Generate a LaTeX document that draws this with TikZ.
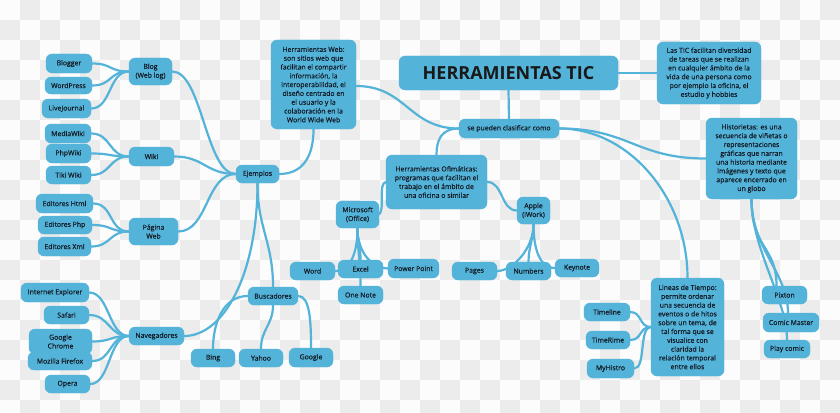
\documentclass[tikz,border=0pt]{standalone}
\usepackage{fontspec}
\setmainfont{Open Sans}
\newfontfamily\tfont[FakeBold=0.35]{Open Sans}
\definecolor{tblue}{RGB}{84,179,217}
\definecolor{tdark}{RGB}{18,26,36}
\definecolor{chk}{RGB}{236,236,236}
\definecolor{chw}{RGB}{252,252,252}
\pgfdeclarelayer{back}
\pgfdeclarelayer{edges}
\pgfsetlayers{back,edges,main}
\tikzset{
  tbox/.style={fill=tblue, draw=tblue, rounded corners=6pt, inner sep=0pt, align=center,
    text=tdark, font=\tfont\fontsize{6.9}{8.8}\selectfont},
  edge/.style={draw=tblue, line width=2.2pt, line cap=round},
}
\begin{document}
\begin{tikzpicture}[x=1pt,y=-1pt]
\useasboundingbox (0,0) rectangle (840,412);
\begin{pgfonlayer}{back}
\begin{scope}
\clip (0,0) rectangle (840,412);
\fill[chw] (0,0) rectangle (840,412);
\foreach \i in {0,...,41}{\foreach \j in {0,...,20}{%
  \pgfmathtruncatemacro\s{mod(\i+\j,2)}%
  \ifnum\s=1 \fill[chk] (\i*20,\j*20) rectangle ++(20,20);\fi}}
\end{scope}
\end{pgfonlayer}

% main nodes
\node[tbox, minimum width=219, minimum height=34, font=\fontsize{18}{20}\selectfont\bfseries, text=black!90] (tic) at (508.5,73) {HERRAMIENTAS TIC};
\node[tbox, minimum width=100, minimum height=19] (clas) at (509,128.5) {se pueden clasificar como};
\node[tbox, minimum width=104, minimum height=62] (lastic) at (709,73) {Las TIC facilitan diversidad\\de tareas que se realizan\\en cualquier ámbito de la\\vida de una persona como\\por ejemplo la oficina, el\\estudio y hobbies};
\node[tbox, minimum width=85, minimum height=89] (hweb) at (313.5,84.5) {Herramientas Web:\\son sitios web que\\facilitan el compartir\\información, la\\interoperabilidad, el\\diseño centrado en\\el usuario y la\\colaboración en la\\World Wide Web};
\node[tbox, minimum width=91, minimum height=81] (hist) at (751.5,158.5) {Historietas: es una\\secuencia de viñetas o\\representaciones\\gráficas que narran\\una historia mediante\\imágenes y texto que\\aparece encerrado en\\un globo};
\node[tbox, minimum width=101, minimum height=54] (ofi) at (436.5,182) {Herramientas Ofimáticas:\\programas que facilitan el\\trabajo en el ámbito de\\una oficina o similar};
\node[tbox, minimum width=43, minimum height=27] (ms) at (357.5,214.5) {Microsoft\\(Office)};
\node[tbox, minimum width=33, minimum height=27] (apple) at (533.5,210.5) {Apple\\(iWork)};
\node[tbox, minimum width=45, minimum height=18] (word) at (312.5,271) {Word};
\node[tbox, minimum width=45, minimum height=18] (excel) at (360.5,269) {Excel};
\node[tbox, minimum width=51, minimum height=19] (pp) at (413.5,268.5) {Power Point};
\node[tbox, minimum width=45, minimum height=18] (onote) at (360.5,295) {One Note};
\node[tbox, minimum width=45, minimum height=18] (pages) at (474.5,271) {Pages};
\node[tbox, minimum width=45, minimum height=18] (numbers) at (528.5,271) {Numbers};
\node[tbox, minimum width=44, minimum height=18] (keynote) at (577,268) {Keynote};
\node[tbox, minimum width=43, minimum height=18] (ejem) at (257.5,174) {Ejemplos};
\node[tbox, minimum width=43, minimum height=27] (blog) at (150.5,71.5) {Blog\\(Web log)};
\node[tbox, minimum width=45, minimum height=19] (wiki) at (151.5,156.5) {Wiki};
\node[tbox, minimum width=49, minimum height=27] (pweb) at (153.5,231.5) {Página\\Web};
\node[tbox, minimum width=46, minimum height=19] (blogger) at (69,63.5) {Blogger};
\node[tbox, minimum width=47, minimum height=17] (wordpress) at (68.5,85.5) {WordPress};
\node[tbox, minimum width=49, minimum height=19] (livej) at (66.5,108.5) {LiveJournal};
\node[tbox, minimum width=46, minimum height=19] (mediawiki) at (68,133.5) {MediaWiki};
\node[tbox, minimum width=45, minimum height=19] (phpwiki) at (68.5,153.5) {PhpWiki};
\node[tbox, minimum width=45, minimum height=18] (tiki) at (68.5,175) {Tiki Wiki};
\node[tbox, minimum width=57, minimum height=19] (ehtml) at (64.5,203.5) {Editores Html};
\node[tbox, minimum width=54, minimum height=18] (ephp) at (65,225) {Editores Php};
\node[tbox, minimum width=53, minimum height=19] (exml) at (64.5,246.5) {Editores Xml};
\node[tbox, minimum width=55, minimum height=18] (nav) at (156.5,336) {Navegadores};
\node[tbox, minimum width=68, minimum height=19] (ie) at (55,292.5) {Internet Explorer};
\node[tbox, minimum width=45, minimum height=18] (safari) at (66.5,315) {Safari};
\node[tbox, minimum width=63, minimum height=25] (chrome) at (60.5,341.5) {Google\\Chrome};
\node[tbox, minimum width=64, minimum height=18] (mozilla) at (60,361) {Mozilla Firefox};
\node[tbox, minimum width=45, minimum height=18] (opera) at (67.5,384) {Opera};
\node[tbox, minimum width=50, minimum height=18] (busc) at (273,296) {Buscadores};
\node[tbox, minimum width=44, minimum height=18] (bing) at (213,358) {Bing};
\node[tbox, minimum width=44, minimum height=18] (yahoo) at (261,358) {Yahoo};
\node[tbox, minimum width=44, minimum height=19] (google) at (311,357.5) {Google};
\node[tbox, minimum width=73, minimum height=98] (lin) at (687.5,327) {Lineas de Tiempo:\\permite ordenar\\una secuencia de\\eventos o de hitos\\sobre un tema, de\\tal forma que se\\visualice con\\claridad la\\relación temporal\\entre ellos};
\node[tbox, minimum width=46, minimum height=18] (timeline) at (607,312) {Timeline};
\node[tbox, minimum width=44, minimum height=18] (timerime) at (608,340) {TimeRime};
\node[tbox, minimum width=47, minimum height=19] (myhistro) at (610.5,368.5) {MyHistro};
\node[tbox, minimum width=45, minimum height=18] (pixton) at (784.5,295) {Pixton};
\node[tbox, minimum width=56, minimum height=19] (cm) at (791,322.5) {Comic Master};
\node[tbox, minimum width=46, minimum height=18] (play) at (787,349) {Play comic};

\begin{pgfonlayer}{edges}
\draw[edge] (tic.south) -- (clas.north);
\draw[edge] (tic.east) -- (lastic.west);
\draw[edge] (clas.west) .. controls +(-50,0) and +(50,0) .. ([yshift=-1.5]hweb.east);
\draw[edge] (clas.west) .. controls +(-18,0) and +(0,-14) .. (ofi.north);
\draw[edge] (clas.east) .. controls +(70,0) and +(-70,0) .. (hist.west);
\draw[edge] (clas.east) .. controls +(70,0) and +(0,-80) .. (lin.north);
\draw[edge] (hweb.south) .. controls +(0,32) and +(20,0) .. (ejem.east);
\draw[edge] (ejem.west) .. controls +(-30,0) and +(30,0) .. (blog.east);
\draw[edge] (ejem.west) .. controls +(-30,0) and +(30,0) .. (wiki.east);
\draw[edge] (ejem.west) .. controls +(-30,0) and +(30,0) .. (pweb.east);
\draw[edge] (ejem.south) .. controls +(0,45) and +(0,-45) .. (busc.north);
\draw[edge] (ejem.south) .. controls +(0,90) and +(40,0) .. (nav.east);
\draw[edge] (busc.west) .. controls +(-25,0) and +(0,-25) .. (bing.north);
\draw[edge] (busc.south) .. controls +(0,20) and +(0,-20) .. (yahoo.north);
\draw[edge] (busc.east) .. controls +(12,0) and +(0,-25) .. (google.north);
\foreach \c in {blogger,wordpress,livej}
  \draw[edge] (blog.west) .. controls +(-20,0) and +(20,0) .. (\c.east);
\foreach \c in {mediawiki,phpwiki,tiki}
  \draw[edge] (wiki.west) .. controls +(-20,0) and +(20,0) .. (\c.east);
\foreach \c in {ehtml,ephp,exml}
  \draw[edge] (pweb.west) .. controls +(-20,0) and +(20,0) .. (\c.east);
\foreach \c in {ie,safari,chrome,mozilla,opera}
  \draw[edge] (nav.west) .. controls +(-20,0) and +(20,0) .. (\c.east);
\draw[edge] (ofi.west) .. controls +(-8,2) and +(6,-6) .. (ms.east);
\draw[edge] (ofi.east) .. controls +(16,0) and +(-16,0) .. (apple.west);
\draw[edge] (ms.south) .. controls +(0,25) and +(15,0) .. (word.east);
\draw[edge] (ms.south) .. controls +(0,15) and +(0,-15) .. (excel.north);
\draw[edge] (ms.south) .. controls +(0,25) and +(-15,0) .. (pp.west);
\draw[edge] (ms.south) .. controls +(0,20) and +(0,-20) .. (onote.north);
\draw[edge] (apple.south) .. controls +(0,25) and +(15,0) .. (pages.east);
\draw[edge] (apple.south) .. controls +(0,15) and +(0,-15) .. (numbers.north);
\draw[edge] (apple.south) .. controls +(0,25) and +(-15,0) .. (keynote.west);
\foreach \c in {timeline,timerime,myhistro}
  \draw[edge] (lin.west) .. controls +(-12,0) and +(12,0) .. (\c.east);
\draw[edge] (hist.south) .. controls +(0,50) and +(0,-40) .. ([xshift=-8]pixton.north);
\draw[edge] (hist.south) .. controls +(0,50) and +(0,-40) .. ([xshift=-3]cm.north);
\draw[edge] (hist.south) .. controls +(0,50) and +(0,-40) .. (play.north);
\end{pgfonlayer}
\end{tikzpicture}
\end{document}
